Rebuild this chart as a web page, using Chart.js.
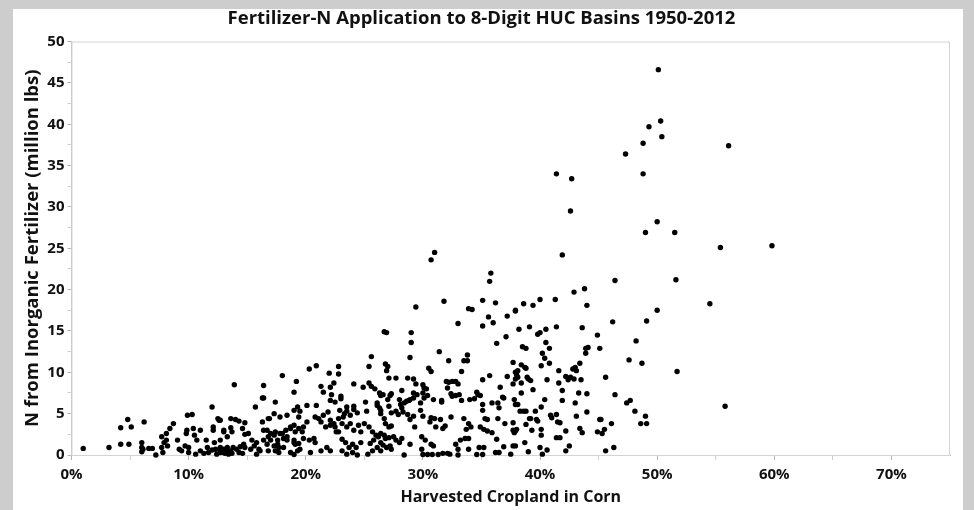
<!DOCTYPE html>
<html>
<head>
<meta charset="utf-8">
<script src="https://cdn.jsdelivr.net/npm/chart.js@4"></script>
<style>
  html, body { margin: 0; padding: 0; background: #cdcdcd; width: 974px; height: 510px; overflow: hidden; }
  #panel { position: absolute; left: 13px; top: 9px; width: 950px; height: 501px; background: #fff; }
</style>
</head>
<body>
<div id="panel"><canvas id="myChart" width="950" height="501"></canvas></div>
<script>
// [share of harvested cropland in corn (%), N from inorganic fertilizer (million lbs)]
const lowShare = [
  [1.0,0.8],[3.2,0.9],[4.2,1.3],[4.9,1.3],[4.2,3.3],[5.1,3.4],[4.8,4.3],[6.2,4.0],[6.0,1.5],[6.0,0.9],
  [6.0,0.4],[6.1,0.7],[6.6,0.8],[6.9,0.8],[7.2,0.0],[7.7,2.2],[7.9,1.5],[7.7,0.9],[7.8,0.3],[8.1,2.6],
  [8.1,1.8],[8.2,1.1],[8.4,3.2],[8.7,3.8],[9.05,1.8],[9.2,0.7],[9.4,0.5],[9.7,1.1],[9.8,2.6],[10.0,0.9],
  [10.0,0.3],[9.9,4.8],[10.3,4.9],[9.85,3.0],[10.4,3.2],[10.5,2.4],[10.7,1.8],[11.0,3.0],[10.6,0.1],[11.0,0.5],
  [11.3,0.2],[11.6,0.9],[11.5,1.8],[11.7,0.3],[12.0,0.6],[12.2,1.5],[12.3,0.7],[12.4,0.1],[12.7,0.5],[13.0,0.3],
  [13.3,0.6],[13.4,0.1],[12.0,5.8],[12.1,3.0],[12.1,3.4],[12.6,4.2],[12.5,4.4],[13.0,2.8],[12.7,1.8],[13.3,2.2]
];
const midLowShare = [
  [13.9,8.5],[16.4,8.4],[15.7,5.8],[16.3,6.9],[16.4,6.9],[17.4,6.4],[12.7,4.2],[13.6,4.4],[14.0,4.3],[14.3,4.1],
  [14.8,3.9],[13.0,3.0],[13.6,3.3],[13.7,2.8],[14.6,3.2],[14.8,2.5],[15.1,2.6],[12.7,0.9],[13.0,0.7],[13.3,0.9],
  [13.6,0.5],[13.8,0.9],[14.1,0.7],[14.4,1.0],[14.7,1.3],[14.8,0.9],[12.7,0.3],[13.1,0.2],[13.7,0.2],[14.3,0.3],
  [14.6,0.2],[15.4,1.8],[15.6,1.1],[15.8,1.5],[15.3,0.7],[16.0,0.7],[16.3,4.0],[16.4,3.0],[16.7,3.0],[16.9,4.4],
  [17.0,2.6],[17.3,2.4],[17.4,2.8],[17.8,2.6],[16.4,1.8],[16.7,1.3],[17.0,1.8],[17.3,1.1],[17.6,1.8],[17.7,0.9],
  [16.1,0.5],[16.8,0.5],[17.4,0.5],[17.7,0.3],[15.8,0.1],[16.8,4.4],[17.3,5.0],[17.8,4.6],[18.4,4.8],[19.0,5.4],
  [19.3,5.8],[18.7,3.4],[19.1,2.8],[19.4,3.2],[19.0,1.8],[18.4,2.2],[18.0,2.6],[16.8,2.2],[17.6,1.3],[18.1,0.9],
  [18.7,0.3],[19.3,0.5],[19.0,0.06],[18.0,9.6],[19.2,8.9],[19.0,7.6],[20.3,10.4],[20.9,10.8],[22.0,9.9],[22.8,10.7],
  [22.8,9.8],[21.3,8.3],[21.5,7.6],[22.1,8.2],[22.4,8.7],[22.2,7.3],[23.0,7.1],[23.0,6.8],[24.1,8.6],[24.9,8.2],
  [25.4,8.7],[25.6,8.3],[25.9,8.0],[26.3,7.5],[25.4,10.7],[25.6,11.9],[25.1,6.4],[26.1,6.3],[26.3,5.7],[26.1,6.0],
  [26.4,5.4],[24.1,5.9],[24.1,5.5],[24.4,5.1],[25.2,5.3],[23.5,5.8],[23.5,5.3],[23.8,4.8],[23.3,5.0],[23.2,4.6],
  [22.9,5.4],[22.8,4.4],[21.9,5.2],[22.1,4.2],[22.4,3.8],[21.7,3.4],[22.1,3.6],[22.5,3.4],[22.6,2.8],[20.1,6.0],
  [20.9,6.0],[20.8,4.6],[21.1,4.4],[21.3,4.0],[21.5,4.8],[19.5,5.3],[19.4,4.6],[20.1,4.0],[19.8,3.4],[19.7,2.8],
  [19.0,3.6],[18.7,3.2],[18.3,3.0],[18.1,2.0],[18.4,1.8],[19.0,1.5],[19.1,1.3],[19.4,1.4],[19.8,2.0],[20.3,1.8],
  [20.7,2.0],[20.8,1.5],[19.5,0.7],[20.4,0.3],[21.3,0.5],[21.8,0.9],[22.1,0.5],[22.8,2.8],[23.1,1.9],[23.4,1.5],
  [23.7,0.9],[24.0,1.3],[24.3,0.9],[24.7,1.5],[23.1,3.8],[23.5,3.4],[23.8,3.8],[24.1,3.0],[24.5,3.6],[24.7,2.8],
  [25.0,3.8],[25.4,3.4],[25.7,2.8],[26.0,2.4],[25.8,1.8],[26.2,2.2],[26.4,1.5],[25.5,1.4],[26.1,0.9],[25.7,0.5],
  [26.4,0.5],[25.3,0.1],[23.1,0.5],[23.5,0.1],[24.0,0.3],[24.4,0.0],[22.5,6.4],[22.1,6.6]
];
const midShare = [
  [26.7,14.9],[26.9,14.8],[29.0,14.8],[29.0,13.6],[28.9,11.8],[31.4,12.5],[33.0,15.9],[33.8,12.1],[33.5,11.4],[33.8,11.4],
  [32.2,11.4],[26.8,11.0],[27.0,10.7],[26.9,10.2],[30.5,10.5],[30.7,10.1],[33.3,10.1],[27.1,9.3],[27.7,9.3],[28.7,9.3],
  [29.2,9.2],[29.4,8.6],[30.0,8.5],[30.1,8.1],[30.3,8.0],[32.0,8.9],[32.2,8.8],[32.5,8.9],[32.8,8.9],[33.0,8.6],
  [26.4,7.2],[26.6,7.3],[27.2,7.2],[27.3,7.4],[28.2,7.8],[29.2,7.5],[29.2,6.9],[29.5,7.3],[30.0,7.5],[30.1,6.9],
  [30.4,7.2],[30.9,6.7],[31.6,6.6],[31.6,6.4],[32.4,7.4],[32.5,7.1],[32.1,8.1],[32.8,7.2],[33.1,7.3],[33.3,6.6],
  [34.0,6.7],[34.4,6.8],[34.6,7.6],[34.7,7.3],[34.9,7.2],[28.0,6.7],[28.1,6.1],[28.2,5.7],[28.3,5.2],[28.4,6.3],
  [28.6,6.5],[28.8,6.6],[28.9,6.7],[27.0,6.7],[27.1,5.9],[27.3,5.1],[27.7,5.3],[27.9,4.9],[28.7,4.9],[28.9,4.3],
  [29.2,4.7],[29.3,3.4],[29.8,6.3],[29.8,5.4],[30.0,4.7],[26.4,5.0],[26.7,4.4],[26.8,3.8],[27.1,3.4],[27.3,3.5],
  [30.7,4.5],[31.0,4.4],[31.5,4.3],[32.4,4.6],[33.5,4.4],[31.9,3.5],[31.7,3.2],[31.1,3.4],[30.6,4.0],[33.9,3.8],
  [34.1,3.4],[34.9,3.4],[33.7,3.1],[26.4,2.6],[26.7,2.4],[26.8,2.0],[27.1,2.1],[27.5,2.2],[27.7,1.8],[26.6,1.2],
  [26.9,0.9],[27.2,1.1],[27.3,0.7],[28.0,1.5],[28.2,2.0],[28.9,1.3],[29.9,2.2],[30.2,1.8],[30.7,1.3],[30.9,1.1],
  [29.9,0.7],[30.0,0.06],[30.4,0.06],[30.8,0.06],[31.3,0.06],[31.7,0.2],[32.1,0.2],[32.3,0.1],[32.8,1.3],[33.0,0.7],
  [33.2,1.8],[33.0,0.0],[33.6,2.0],[33.9,2.0],[33.9,0.7],[34.6,0.06],[34.8,0.9],[28.4,0.0]
];
const highShare = [
  [41.9,24.2],[35.8,22.0],[35.7,21.0],[46.4,21.1],[51.6,21.2],[54.5,18.3],[50.0,17.5],[49.1,16.2],[46.2,16.1],[48.2,13.8],
  [47.6,11.5],[48.7,11.1],[51.7,10.1],[55.8,5.9],[46.4,7.3],[47.4,6.3],[47.7,6.6],[48.1,5.3],[49.0,4.7],[48.6,3.8],
  [49.1,3.8],[46.1,3.8],[45.6,9.4],[44.9,14.5],[45.1,12.9],[43.6,15.4],[43.9,12.9],[44.1,13.0],[43.9,12.3],[43.4,11.1],
  [43.0,10.6],[42.8,10.4],[43.1,10.2],[42.6,9.4],[42.9,9.2],[43.5,9.1],[42.2,9.5],[42.4,9.1],[41.6,10.2],[41.6,8.7],
  [41.9,7.8],[41.9,6.6],[43.3,7.5],[44.0,7.4],[43.0,6.3],[44.0,5.2],[43.1,4.7],[43.4,3.2],[43.6,2.7],[42.2,2.9],
  [45.1,4.3],[45.2,4.3],[45.5,3.1],[44.9,2.8],[45.3,2.6],[45.6,0.5],[46.3,0.9],[42.5,1.1],[42.2,0.5],[41.7,2.1],
  [41.4,2.1],[41.5,4.0],[41.7,3.9],[41.4,4.9],[40.9,4.8],[41.0,4.5],[40.6,0.6],[40.2,0.1],[40.0,0.9],[40.1,3.1],
  [40.1,2.4],[39.8,4.1],[39.7,4.3],[39.3,3.0],[39.1,4.4],[39.2,4.4],[39.6,5.3],[38.8,3.7],[38.7,1.5],[39.0,0.4],
  [37.9,1.1],[37.7,1.1],[39.4,7.9],[40.1,5.8],[40.4,6.7],[40.6,9.1],[40.1,10.8],[40.8,11.1],[40.2,12.3],[40.4,11.7],
  [40.8,12.9],[40.5,13.6],[39.8,14.6],[40.0,14.8],[40.5,15.2],[41.4,15.5],[39.1,15.5],[38.2,15.2],[37.9,17.4],[37.2,16.8],
  [36.0,16.0],[35.6,16.7],[35.1,15.6],[37.1,14.3],[36.3,13.5],[38.5,13.1],[38.8,12.9],[37.7,11.2],[38.4,10.9],[38.7,10.6],
  [38.8,10.5],[37.9,10.0],[38.0,9.7],[38.1,10.2],[37.2,9.5],[37.7,8.6],[37.9,9.2],[38.1,9.4],[38.9,9.4],[39.0,9.2],
  [39.2,9.0],[38.4,8.7],[35.7,9.6],[35.1,9.1],[36.6,8.2],[38.4,7.5],[36.8,7.0],[36.9,6.9],[36.4,6.3],[36.5,5.7],
  [35.9,6.3],[35.1,6.1],[37.8,6.7],[37.9,6.1],[38.1,6.1],[38.3,5.3],[38.6,5.3],[38.8,5.3],[35.1,5.4],[35.3,4.4],
  [35.5,4.3],[36.4,4.4],[37.0,3.8],[37.7,3.9],[37.7,3.0],[37.9,2.9],[37.8,2.7],[38.0,3.1],[35.2,3.1],[35.5,2.9],
  [35.9,2.7],[36.3,1.9],[36.9,1.0],[37.5,0.1],[36.2,0.3],[36.5,0.3],[35.2,0.9],[35.1,0.06]
];
const upperOutliers = [
  [41.4,34.0],[42.7,33.4],[42.6,29.5],[31.0,24.5],[30.7,23.6],[29.4,17.9],[31.8,18.6],[33.9,17.7],[34.2,17.6],[35.1,18.7],
  [36.2,18.4],[38.6,18.3],[39.4,18.1],[40.0,18.8],[41.3,18.8],[42.9,19.7],[43.8,20.1],[44.0,18.1],[37.9,17.5],[49.0,26.9],
  [51.5,26.9],[55.4,25.1],[50.1,46.6],[49.3,39.7],[50.3,40.4],[50.4,38.5],[48.8,37.7],[47.3,36.4],[56.1,37.4],[48.8,34.0],
  [50.0,28.2],[59.8,25.3]
];

const xTickValues = [0, 10, 20, 30, 40, 50, 60, 70];
const xMinorTicks = [5, 15, 25, 35, 45, 55, 65];
const yTickValues = [0, 5, 10, 15, 20, 25, 30, 35, 40, 45, 50];
const yMinorTicks = [2.5, 7.5, 12.5, 17.5, 22.5, 27.5, 32.5, 37.5, 42.5, 47.5];

const allBasins = [...lowShare, ...midLowShare, ...midShare, ...highShare, ...upperOutliers]
  .map(([x, y]) => ({x, y}));

const frame = {
  id: 'frame',
  beforeDatasetsDraw(chart) {
    const {ctx, chartArea: a} = chart;
    ctx.save();
    ctx.strokeStyle = '#d3d3d3';
    ctx.lineWidth = 1;
    ctx.strokeRect(a.left + 0.5, a.top + 0.5, a.width - 1, a.height);
    ctx.restore();
  }
};

const tickFont = {family: 'Open Sans', size: 15, weight: 'bold'};

const ctx = document.getElementById('myChart');

new Chart(ctx, {
  type: 'scatter',
  data: {
    datasets: [{
      data: allBasins,
      backgroundColor: '#000',
      borderWidth: 0,
      pointRadius: 2.7,
      clip: false
    }]
  },
  options: {
    responsive: false,
    animation: false,
    layout: {padding: {left: 0, right: 13, top: 0, bottom: 0}},
    plugins: {
      legend: {display: false},
      tooltip: {enabled: false},
      title: {
        display: true,
        text: 'Fertilizer-N Application to 8-Digit HUC Basins 1950-2012',
        color: '#111',
        font: {family: 'Open Sans', size: 18.5, weight: 'bold', lineHeight: 1.1},
        padding: {top: 0, bottom: 12.2}
      }
    },
    scales: {
      x: {
        type: 'linear',
        min: 0,
        max: 75,
        afterBuildTicks: (scale) => {
          scale.ticks = [...xTickValues, ...xMinorTicks].sort((a, b) => a - b).map(v => ({value: v}));
        },
        afterFit: (scale) => { scale.height = 55; },
        ticks: {
          autoSkip: false,
          maxRotation: 0,
          padding: 6,
          color: '#111',
          font: tickFont,
          callback: (v) => xTickValues.includes(v) ? v + '%' : ''
        },
        grid: {
          drawOnChartArea: false,
          tickLength: 5,
          tickColor: (c) => (c.tick && xTickValues.includes(c.tick.value)) ? '#b5b5b5' : '#d0d0d0'
        },
        border: {color: '#c4c4c4'},
        title: {
          display: true,
          text: 'Harvested Cropland in Corn',
          color: '#111',
          font: {family: 'Open Sans', size: 16, weight: 'bold'},
          padding: {top: 0, bottom: 3}
        }
      },
      y: {
        type: 'linear',
        min: 0,
        max: 50,
        afterBuildTicks: (scale) => {
          scale.ticks = [...yTickValues, ...yMinorTicks].sort((a, b) => a - b).map(v => ({value: v}));
        },
        afterFit: (scale) => { scale.width = 58.5; },
        ticks: {
          autoSkip: false,
          padding: 3,
          color: '#111',
          font: tickFont,
          callback: (v) => yTickValues.includes(v) ? String(v) : ''
        },
        grid: {
          drawOnChartArea: false,
          tickLength: 4,
          tickColor: (c) => (c.tick && yTickValues.includes(c.tick.value)) ? '#b5b5b5' : '#d0d0d0'
        },
        border: {color: '#c4c4c4'},
        title: {
          display: true,
          text: 'N from Inorganic Fertilizer (million lbs)',
          color: '#111',
          font: {family: 'Open Sans', size: 18.5, weight: 'bold'},
          padding: {top: 9, bottom: 0}
        }
      }
    }
  },
  plugins: [frame]
});
</script>
</body>
</html>
